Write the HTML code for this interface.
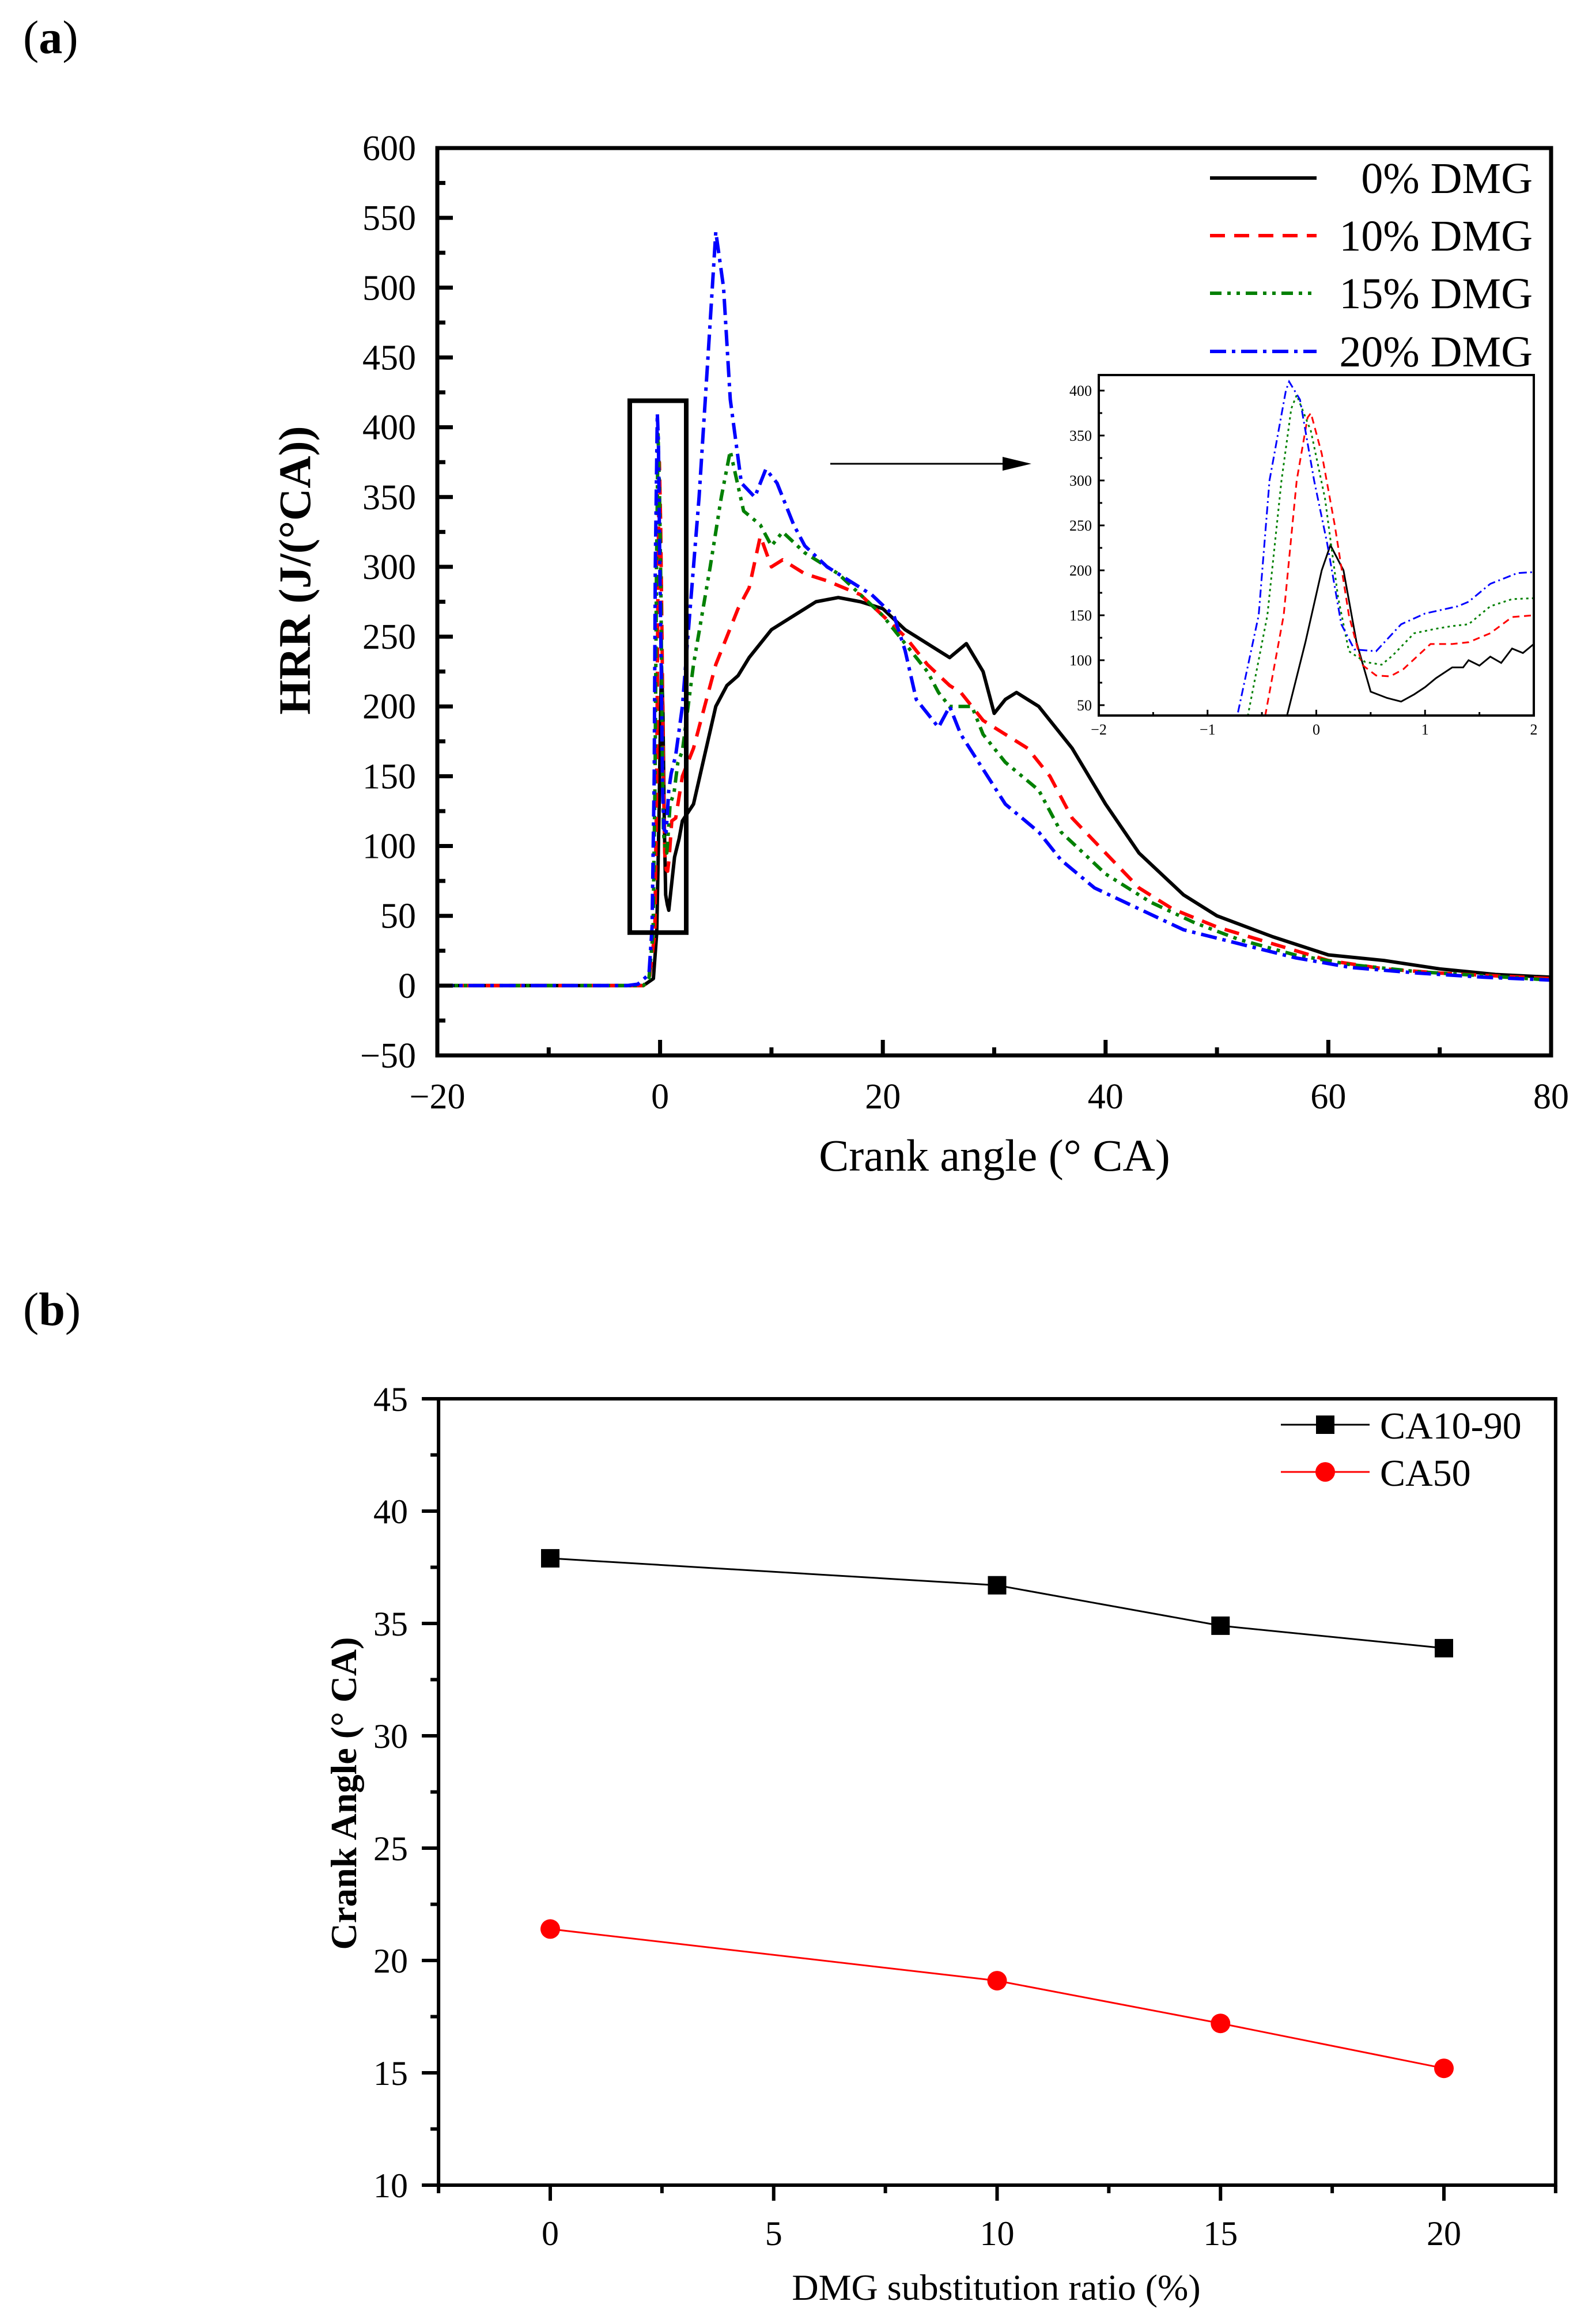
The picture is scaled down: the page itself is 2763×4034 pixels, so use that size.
<!DOCTYPE html>
<html><head><meta charset="utf-8"><style>
html,body{margin:0;padding:0;background:#fff}
svg{display:block;font-family:"Liberation Serif",serif}
</style></head><body>
<svg id="svg" width="2763" height="4034" viewBox="0 0 2763 4034" xmlns="http://www.w3.org/2000/svg">
<text x="40" y="92" font-size="82">(<tspan font-weight="bold">a</tspan>)</text>
<text x="40" y="2300" font-size="82">(<tspan font-weight="bold">b</tspan>)</text>
<g id="top"></g>
<g id="bot"></g>
</svg>
<script>
// ===== Chart (a) data =====
const x0 = [-20,-3,-1.5,-0.6,-0.3,-0.1,0.05,0.13,0.25,0.37,0.5,0.65,0.78,1.0,1.3,1.7,2,3,4,5,6,7,8,10,12,14,16,18,20,22,23,25,26,27.5,29,30,31,32,34,37,40,43,47,50,55,60,65,70,75,80];
const y0 = [0,0,0,5,38,120,200,228,200,120,65,58,54,70,92,105,118,130,165,200,215,222,235,255,265,275,278,275,270,255,250,240,235,245,225,195,205,210,200,170,130,95,65,50,35,22,18,12,8,6];
const x10 = [-20,-3,-1.5,-1,-0.47,-0.3,-0.18,-0.06,0.05,0.17,0.3,0.42,0.55,0.68,0.8,1.05,1.4,2,3,4,5,6,7,8,9,10,11,13,15,18,20,22,24,26,27,29,31,33,35,37,40,43,46,50,55,60,65,70,75,80];
const y10 = [0,0,0,3,38,150,300,375,330,250,150,95,83,82,90,118,120,150,170,200,230,250,270,285,322,300,305,295,290,280,265,250,230,215,210,190,180,170,150,120,95,70,55,42,30,18,12,9,7,5];
const x15 = [-20,-3,-1.5,-1,-0.63,-0.45,-0.32,-0.18,-0.05,0.08,0.2,0.3,0.45,0.6,0.7,0.9,1.25,1.6,2,3,4.5,5.5,6.3,7.5,9,10,11,13,16,18,20,22,24,25,26,28,29,31,34,36,40,44,48,52,57,62,68,74,80];
const y15 = [0,0,0,5,38,150,300,395,355,280,170,110,98,95,105,130,138,160,168,230,300,350,383,340,330,315,325,310,295,280,265,245,225,210,200,200,180,160,140,110,80,60,45,33,22,15,10,7,4];
const x20 = [-20,-3,-2,-1,-0.72,-0.53,-0.43,-0.25,-0.15,-0.02,0.1,0.23,0.35,0.55,0.78,1.0,1.4,2,2.5,3.5,4.3,5,5.7,6.3,7.3,8.5,9.5,10.5,12,13,15,17,19,21,22,23,24,25,26,27,29,31,34,36,39,43,47,52,57,62,68,74,80];
const y20 = [0,0,1,8,42,150,300,410,390,300,230,140,112,110,140,152,165,200,250,350,450,540,500,420,360,350,370,360,330,315,300,290,280,265,240,205,195,185,200,180,155,130,110,90,70,55,40,30,20,13,9,6,4];
const seriesNames = ["0% DMG","10% DMG","15% DMG","20% DMG"];
const xTicksA = [-20,0,20,40,60,80];
const yTicksA = [-50,0,50,100,150,200,250,300,350,400,450,500,550,600];
// inset data
const ix0 = [-0.27,-0.1,0.05,0.13,0.25,0.37,0.5,0.65,0.78,0.9,1.0,1.1,1.25,1.35,1.4,1.5,1.6,1.7,1.8,1.9,2];
const iy0 = [38,120,200,228,200,120,65,58,54,62,70,80,92,92,100,94,104,97,113,108,118];
const ix10 = [-0.47,-0.3,-0.18,-0.08,-0.05,0.05,0.17,0.3,0.42,0.55,0.68,0.8,1.05,1.25,1.4,1.6,1.8,2];
const iy10 = [38,150,300,370,375,330,250,150,95,83,82,90,118,118,120,130,148,150];
const ix15 = [-0.63,-0.45,-0.32,-0.23,-0.18,-0.05,0.08,0.2,0.3,0.45,0.6,0.7,0.9,1.1,1.25,1.4,1.6,1.8,2];
const iy15 = [38,150,300,380,395,355,280,170,110,98,95,105,130,135,138,140,160,168,169];
const ix20 = [-0.72,-0.53,-0.43,-0.28,-0.25,-0.15,-0.02,0.1,0.23,0.35,0.55,0.78,1.0,1.3,1.4,1.6,1.85,2];
const iy20 = [42,150,300,400,410,390,300,230,140,112,110,140,152,160,165,185,197,198];
const ixTicks = [-2,-1,0,1,2];
const iyTicks = [50,100,150,200,250,300,350,400];
// ===== Chart (b) data =====
const ratios = [0,10,15,20];
const ca1090 = [37.9,36.7,34.9,33.9];
const ca50 = [21.4,19.1,17.2,15.2];
const xTicksB = [0,5,10,15,20];
const yTicksB = [10,15,20,25,30,35,40,45];

const NS="http://www.w3.org/2000/svg";
function mk(parent,tag,attrs,text){const e=document.createElementNS(NS,tag);for(const k in attrs)e.setAttribute(k,attrs[k]);if(text!==undefined)e.textContent=text;parent.appendChild(e);return e;}
function pts(xs,ys,fx,fy){return xs.map((x,i)=>fx(x).toFixed(1)+","+fy(ys[i]).toFixed(1)).join(" ");}

// ---------- Chart A ----------
const A=document.getElementById('top');
const aL=759,aR=2692,aT=257,aB=1832;
const ax=v=>aL+(v+20)*(aR-aL)/100;
const ay=v=>aT+(600-v)*(aB-aT)/650;
const colors=["#000","#f00","#008000","#00f"];
const dashes=["none","26 16","20 10 6 10 6 10","28 10 6 10"];
const xsA=[x0,x10,x15,x20], ysA=[y0,y10,y15,y20];
for(let i=0;i<4;i++){
  const l=mk(A,'polyline',{points:pts(xsA[i],ysA[i],ax,ay),fill:'none',stroke:colors[i],'stroke-width':6,'stroke-dasharray':dashes[i],'stroke-linejoin':'round'});
  
  
}
for(let v=-20;v<=80;v+=10){
  const len=(v%20===0)?27:14;
  const t=mk(A,'line',{x1:ax(v),x2:ax(v),y1:aB,y2:aB-len,stroke:'#000','stroke-width':7});
  
  
}
xTicksA.forEach(v=>{
  const t=mk(A,'text',{x:ax(v),y:1924,'font-size':62,'text-anchor':'middle'},v<0?'\u2212'+(-v):String(v));
  
  
});
for(let v=-50;v<=600;v+=25){
  const len=(v%50===0)?27:14;
  const t=mk(A,'line',{x1:aL,x2:aL+len,y1:ay(v),y2:ay(v),stroke:'#000','stroke-width':7});
  
  
}
yTicksA.forEach(v=>{
  const t=mk(A,'text',{x:722,y:ay(v)+21,'font-size':62,'text-anchor':'end'},v<0?'\u2212'+(-v):String(v));
  
  
});
const fa=mk(A,'rect',{x:aL,y:aT,width:aR-aL,height:aB-aT,fill:'none',stroke:'#000','stroke-width':7});


const xtA=mk(A,'text',{x:1726,y:2032,'font-size':78,'text-anchor':'middle'},'Crank angle (\u00B0 CA)');


const ytA=mk(A,'text',{x:0,y:0,'font-size':78,'font-weight':'bold','text-anchor':'middle',transform:'translate(538,990) rotate(-90)'},'HRR (J/(\u00B0CA))');


// zoom box and arrow
const zb=mk(A,'rect',{x:1093,y:ay(419),width:98,height:ay(38)-ay(419),fill:'none',stroke:'#000','stroke-width':8});


const ar=mk(A,'line',{x1:1441,y1:805,x2:1750,y2:805,stroke:'#000','stroke-width':3});


const ah=mk(A,'polygon',{points:'1740,793 1790,805 1740,817',fill:'#000'});


// legend
const legY=[309,409,509,610];
for(let i=0;i<4;i++){
  const l=mk(A,'line',{x1:2100,x2:2285,y1:legY[i],y2:legY[i],stroke:colors[i],'stroke-width':6,'stroke-dasharray':dashes[i]});
  
  
  const t=mk(A,'text',{x:2660,y:legY[i]+26,'font-size':76,'text-anchor':'end'},seriesNames[i]);
  
  
}
// inset
const iL=1907,iR=2662,iT=651,iB=1242;
const ix=v=>iL+(v+2)*(iR-iL)/4;
const iy=v=>678+(400-v)*(1224-678)/350;
const inset=mk(A,'g',{});


mk(inset,'rect',{x:iL,y:iT,width:iR-iL,height:iB-iT,fill:'#fff',stroke:'none'});
const ixs=[ix0,ix10,ix15,ix20], iys=[iy0,iy10,iy15,iy20];
const idash=["none","12 8","4 6","14 6 3 6"];
for(let i=0;i<4;i++){
  const l=mk(inset,'polyline',{points:pts(ixs[i],iys[i],ix,iy),fill:'none',stroke:colors[i],'stroke-width':3,'stroke-dasharray':idash[i]});
  
  
}
for(let v=-2;v<=2;v+=0.5){
  const len=(Math.abs(v%1)<1e-9)?10:6;
  const t=mk(inset,'line',{x1:ix(v),x2:ix(v),y1:iB,y2:iB-len,stroke:'#000','stroke-width':3});
  
  
}
ixTicks.forEach(v=>{
  const t=mk(inset,'text',{x:ix(v),y:1275,'font-size':26,'text-anchor':'middle'},v<0?'\u2212'+(-v):String(v));
  
  
});
for(let v=50;v<=400;v+=25){
  const len=(v%50===0)?10:6;
  const t=mk(inset,'line',{x1:iL,x2:iL+len,y1:iy(v),y2:iy(v),stroke:'#000','stroke-width':3});
  
  
}
iyTicks.forEach(v=>{
  const t=mk(inset,'text',{x:1895,y:iy(v)+9,'font-size':26,'text-anchor':'end'},String(v));
  
  
});
mk(inset,'rect',{x:iL,y:iT,width:iR-iL,height:iB-iT,fill:'none',stroke:'#000','stroke-width':4});

// ---------- Chart B ----------
const B=document.getElementById('bot');
const bx=v=>955+v*(2506-955)/20;
const bL=bx(-2.5),bR=bx(22.5),bT=2428,bB=3793;
const by=v=>bT+(45-v)*(bB-bT)/35;
for(let v=-2.5;v<=22.5;v+=2.5){
  const len=(v%5===0)?27:14;
  const t=mk(B,'line',{x1:bx(v),x2:bx(v),y1:bB,y2:bB+len,stroke:'#000','stroke-width':6});
  
  
}
xTicksB.forEach(v=>{
  const t=mk(B,'text',{x:bx(v),y:3897,'font-size':60,'text-anchor':'middle'},String(v));
  
  
});
for(let v=10;v<=45;v+=2.5){
  const len=(v%5===0)?29:14;
  const t=mk(B,'line',{x1:bL,x2:bL-len,y1:by(v),y2:by(v),stroke:'#000','stroke-width':6});
  
  
}
yTicksB.forEach(v=>{
  const t=mk(B,'text',{x:708,y:by(v)+21,'font-size':60,'text-anchor':'end'},String(v));
  
  
});
const fb=mk(B,'rect',{x:bL,y:bT,width:bR-bL,height:bB-bT,fill:'none',stroke:'#000','stroke-width':6});


const l1=mk(B,'polyline',{points:pts(ratios,ca1090,bx,by),fill:'none',stroke:'#000','stroke-width':3});


const l2=mk(B,'polyline',{points:pts(ratios,ca50,bx,by),fill:'none',stroke:'#f00','stroke-width':3});


ratios.forEach((r,i)=>{
  const s=mk(B,'rect',{x:bx(r)-16,y:by(ca1090[i])-16,width:32,height:32,fill:'#000'});
  
  
  const c=mk(B,'circle',{cx:bx(r),cy:by(ca50[i]),r:17,fill:'#f00'});
  
  
});
// legend b
const lb1=mk(B,'line',{x1:2223,x2:2377,y1:2473,y2:2473,stroke:'#000','stroke-width':3});


mk(B,'rect',{x:2284,y:2457,width:32,height:32,fill:'#000'});
const tb1=mk(B,'text',{x:2395,y:2497,'font-size':66},'CA10-90');


const lb2=mk(B,'line',{x1:2223,x2:2377,y1:2555,y2:2555,stroke:'#f00','stroke-width':3});


mk(B,'circle',{cx:2300,cy:2555,r:17,fill:'#f00'});
const tb2=mk(B,'text',{x:2395,y:2579,'font-size':66},'CA50');


const xtB=mk(B,'text',{x:1729,y:3992,'font-size':64,'text-anchor':'middle'},'DMG substitution ratio (%)');


const ytB=mk(B,'text',{x:0,y:0,'font-size':64,'font-weight':'bold','text-anchor':'middle',transform:'translate(618,3113) rotate(-90)'},'Crank Angle (\u00B0 CA)');


</script>
</body></html>
